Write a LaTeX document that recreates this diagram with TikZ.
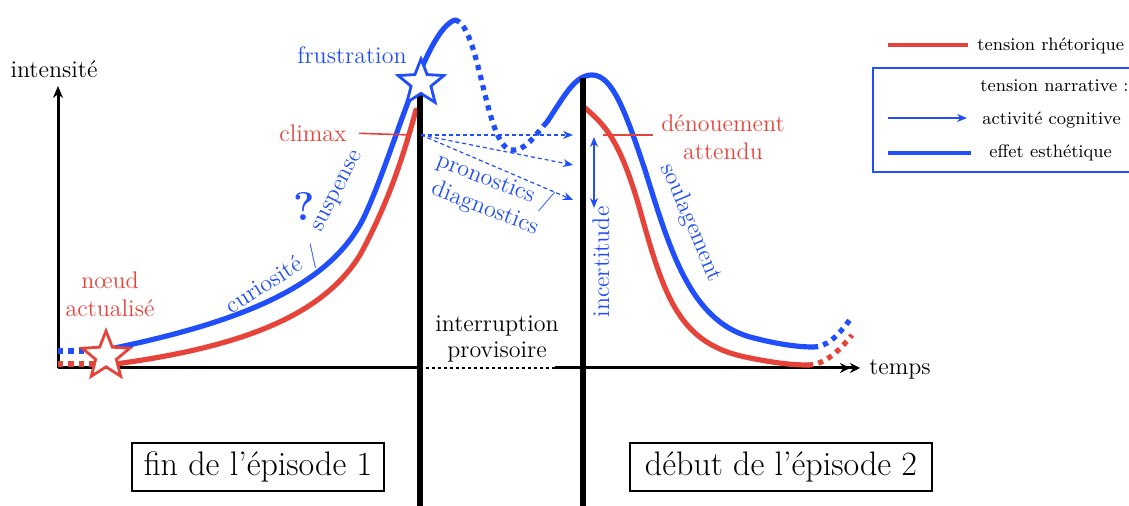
\documentclass[tikz,border=0pt]{standalone}
\usetikzlibrary{arrows.meta, positioning, shapes.geometric}
\definecolor{narblue}{HTML}{1F4EFA}
\definecolor{rhetred}{HTML}{E6443A}

\begin{document}
\begin{tikzpicture}[x=0.5pt, y=-0.5pt, font=\fontsize{12}{14}\selectfont,
     axe/.style={line width=1.5pt, black},
     cut/.style={line width=3pt, black},
     tens/.style={line width=2.6pt, line cap=round},
     pointil/.style={line width=2.6pt, dash pattern=on 2.6pt off 2.6pt},
     cog/.style={narblue, line width=0.6pt, dash pattern=on 2pt off 1.5pt, -{Stealth[length=5pt, width=4pt]}},
     lab/.style={inner sep=1pt},
     etoile/.style={star, star points=5, star point ratio=2.3, minimum size=24pt, line width=1.4pt, fill=white, inner sep=0pt},
     ep/.style={draw, line width=0.8pt, font=\fontsize{17}{20}\selectfont, minimum height=24pt, inner sep=3pt},
     leg/.style={font=\fontsize{9}{11}\selectfont, inner sep=0pt, anchor=west}]
    \clip (0,0) rectangle (1129,506);
    % axes
    \coordinate (O) at (58,368);
    \coordinate (ytop) at (58,86);
    \coordinate (cut1) at (420,368);
    \coordinate (cut2) at (555,368);
    \coordinate (xend) at (860,368);
    \draw[axe, -{Stealth[length=6pt, width=5pt]}] (O) -- (ytop);
    \draw[axe] (O) -- (cut1);
    \draw[axe, line width=1.3pt, dash pattern=on 1.5pt off 1.5pt] (cut1) -- (cut2);
    \draw[axe, -{Stealth[length=5pt, width=5pt]Stealth[length=5pt, width=5pt]}] (cut2) -- (xend);
    \node[lab] (yl) at (54,69) {intensité};
    \node[lab] (xl) at (900,369) {temps};
    % tension narrative
    \draw[pointil, narblue] (58,351) -- (100,351);
    \draw[tens, narblue] (100,351) .. controls (230,325) and (330,290) .. (365,215)
        .. controls (395,150) and (425,30) .. (455,20);
    \draw[pointil, narblue] (455,20) .. controls (480,25) and (485,145) .. (511,150)
        .. controls (525,152) and (535,135) .. (547,122);
    \draw[tens, narblue] (547,122) .. controls (565,95) and (575,75) .. (592,75)
        .. controls (612,75) and (625,110) .. (645,170)
        .. controls (670,250) and (690,320) .. (750,337)
        .. controls (780,345) and (800,347) .. (813,347);
    \draw[pointil, narblue] (813,347) .. controls (830,347) and (842,330) .. (852,317);
    % tension rhetorique
    \draw[pointil, rhetred] (58,364) -- (100,364);
    \draw[tens, rhetred] (100,366) .. controls (230,350) and (320,320) .. (360,255)
        .. controls (390,200) and (405,150) .. (416,110);
    \draw[tens, rhetred] (585,108) .. controls (605,125) and (620,140) .. (640,210)
        .. controls (665,300) and (680,345) .. (750,358)
        .. controls (780,364) and (795,365) .. (808,365);
    \draw[pointil, rhetred] (808,365) .. controls (825,365) and (840,350) .. (852,335);
    % coupures
    \draw[cut] (420,82) -- (420,506);
    \draw[cut] (583,78) -- (583,506);
    \node[etoile, draw=narblue] (frus) at (421,83) {};
    \node[etoile, draw=rhetred, minimum size=25pt] (noeud) at (106,356) {};
    % labels
    \node[lab, text=narblue] (frusl) at (352,55) {frustration};
    \node[lab, text=rhetred] (climax) at (313,133) {climax};
    \coordinate (clx) at (411,135);
    \draw[rhetred, line width=0.8pt, shorten <=5pt] (climax.east) -- (clx);
    \node[lab, text=rhetred, align=center] (noeudl) at (110,294) {nœud\\actualisé};
    \node[text=narblue, font=\bfseries\fontsize{20}{22}\selectfont] (quest) at (304,207) {?};
    \node[lab, text=narblue, rotate=32] (curio) at (273,281) {curiosité /};
    \node[lab, text=narblue, rotate=63] (susp) at (339,192) {suspense};
    % activite cognitive
    \coordinate (cog) at (421,135);
    \coordinate (p1) at (573,135);
    \coordinate (p2) at (573,165);
    \coordinate (p3) at (573,200);
    \draw[cog] (cog) -- (p1);
    \draw[cog] (cog) -- (p2);
    \draw[cog] (cog) -- (p3);
    \node[lab, text=narblue, rotate=-21, align=center] (prono) at (490,195) {pronostics /\\diagnostics};
    \coordinate (inc1) at (594,137);
    \coordinate (inc2) at (594,208);
    \draw[narblue, line width=0.8pt, {Stealth[length=5pt, width=4pt]}-{Stealth[length=5pt, width=4pt]}] (inc1) -- (inc2);
    \node[lab, text=narblue, rotate=90] (incert) at (601,262) {incertitude};
    \node[lab, text=rhetred, align=center] (denou) at (723,137) {dénouement\\attendu};
    \coordinate (den) at (603,135);
    \draw[rhetred, line width=0.8pt] (den) -- (653,135);
    \node[lab, text=narblue, rotate=-67] (soul) at (691,223) {soulagement};
    \node[lab, align=center, font=\fontsize{12}{13}\selectfont] (interr) at (497,339) {interruption\\provisoire};
    % episodes
    \node[ep, minimum width=126pt] (ep1) at (258,467) {fin de l’épisode 1};
    \node[ep, minimum width=151pt] (ep2) at (781,467) {début de l’épisode 2};
    % legende
    \coordinate (lr1) at (888,45);
    \coordinate (lr2) at (968,45);
    \draw[rhetred, line width=2pt] (lr1) -- (lr2);
    \node[leg] (lrt) at (977,46) {tension rhétorique};
    \draw[narblue, line width=1pt] (873,68) rectangle (1140,172);
    \node[leg] (lnt) at (980,86) {tension narrative :};
    \coordinate (la1) at (888,118);
    \coordinate (la2) at (967,118);
    \draw[narblue, line width=0.6pt, -{Stealth[length=5pt, width=4pt]}] (la1) -- (la2);
    \node[leg] (lat) at (982,120) {activité cognitive};
    \coordinate (lb1) at (888,153);
    \coordinate (lb2) at (971,153);
    \draw[narblue, line width=2.2pt] (lb1) -- (lb2);
    \node[leg] (lbt) at (989,153) {effet esthétique};
\end{tikzpicture}
\end{document}
